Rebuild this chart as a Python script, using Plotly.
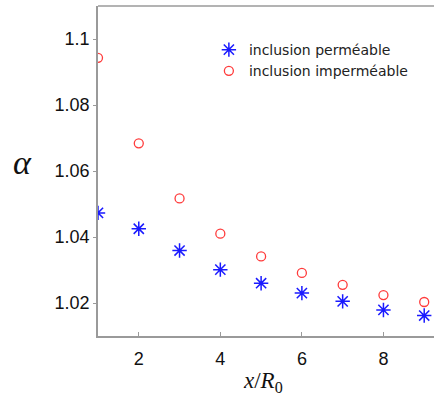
import plotly.graph_objects as go

x_vals = [1, 2, 3, 4, 5, 6, 7, 8, 9]
alpha_permeable = [1.0473, 1.0425, 1.0359, 1.0301, 1.0260, 1.0230, 1.0205, 1.0179, 1.0162]
alpha_impermeable = [1.0943, 1.0684, 1.0517, 1.0410, 1.0341, 1.0291, 1.0255, 1.0224, 1.0203]
x_ticks = [2, 4, 6, 8]
y_ticks = [1.02, 1.04, 1.06, 1.08, 1.1]
y_tick_text = ["1.02", "1.04", "1.06", "1.08", "1.1"]

fig = go.Figure()
fig.add_trace(go.Scatter(
    x=x_vals, y=alpha_permeable, mode="markers", name="inclusion perméable",
    marker=dict(symbol="asterisk-open", size=12, color="#1a1aff",
                line=dict(color="#1a1aff", width=1.5)),
))
fig.add_trace(go.Scatter(
    x=x_vals, y=alpha_impermeable, mode="markers", name="inclusion imperméable",
    marker=dict(symbol="circle-open", size=9, color="#ff3b3b",
                line=dict(color="#ff3b3b", width=1.3)),
))

axis_line = "#9a9a9a"
fig.update_layout(
    width=434, height=397,
    margin=dict(l=98, r=0, t=6, b=61),
    paper_bgcolor="white", plot_bgcolor="white",
    font=dict(family="Liberation Sans", size=18, color="#111111"),
    showlegend=True,
    legend=dict(x=0.33, y=0.915, xanchor="left", yanchor="top",
                bgcolor="rgba(0,0,0,0)", borderwidth=0,
                font=dict(family="DejaVu Sans", size=14, color="#222222"),
                tracegroupgap=0, itemsizing="trace"),
    xaxis=dict(range=[1, 9.24], tickmode="array", tickvals=x_ticks,
               ticks="inside", ticklen=4, tickcolor=axis_line,
               showline=True, linecolor=axis_line, linewidth=1.5,
               mirror=False, showgrid=False, zeroline=False,
               ticklabelstandoff=6),
    yaxis=dict(range=[1.01, 1.11], tickmode="array", tickvals=y_ticks,
               ticktext=y_tick_text,
               ticks="outside", ticklen=3, tickcolor=axis_line,
               showline=True, linecolor=axis_line, linewidth=1.5,
               showgrid=False, zeroline=False),
    shapes=[dict(type="line", xref="paper", yref="paper", x0=0, x1=1, y0=1, y1=1,
                 line=dict(color=axis_line, width=1.5))],
    annotations=[
        dict(text="<i>α</i>", xref="paper", yref="paper",
             x=-0.225, y=0.525, showarrow=False, xanchor="center", yanchor="middle",
             font=dict(family="Liberation Serif", size=34, color="#111111")),
        dict(text="<i>x</i>/<i>R</i><sub>0</sub>", xref="paper", yref="paper",
             x=0.49, y=-0.14, showarrow=False, xanchor="center", yanchor="middle",
             font=dict(family="Liberation Serif", size=23, color="#111111")),
    ],
)

fig.write_html("out.html", config={"displayModeBar": False},
               post_script="document.body.style.margin='0';document.body.style.overflow='hidden';")
